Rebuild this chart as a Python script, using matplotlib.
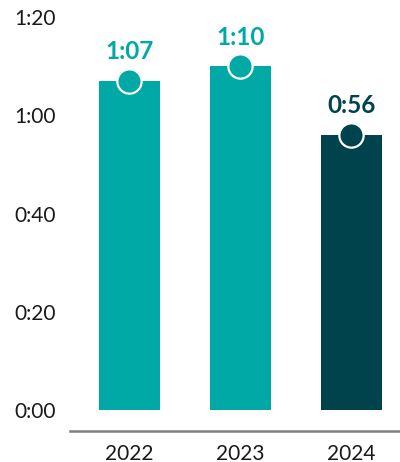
import matplotlib.pyplot as plt

years = ['2022', '2023', '2024']
minutes = [67, 70, 56]
labels = ['1:07', '1:10', '0:56']
bar_colors = ['#00A9A5', '#00A9A5', '#00434D']
ytick_vals = [0, 20, 40, 60, 80]
ytick_labels = ['0:00', '0:20', '0:40', '1:00', '1:20']

plt.rcParams['font.family'] = ['Lato', 'DejaVu Sans']

fig = plt.figure(figsize=(4.0, 4.62), dpi=100)
ax = fig.add_axes([0.175, 0.067, 0.825, 0.933])

x = list(range(len(years)))
ax.bar(x, minutes, width=0.55, color=bar_colors, zorder=2)
for xi, m, lab, c in zip(x, minutes, labels, bar_colors):
  ax.plot(xi, m, 'o', markersize=17.5, color=c, markeredgecolor='white',
          markeredgewidth=1.6, zorder=3, clip_on=False)
  ax.annotate(lab, (xi, m), xytext=(0, 21), textcoords='offset points',
              ha='center', va='center', fontsize=17.5, fontweight='bold',
              color=c)

ax.set_xlim(-0.536, 2.437)
ax.set_ylim(-4.3, 83.5)
ax.set_xticks(x)
ax.set_xticklabels(years, fontsize=15, color='#1a1a1a')
ax.set_yticks(ytick_vals)
ax.set_yticklabels(ytick_labels, fontsize=15, color='#1a1a1a')
ax.tick_params(length=0)
ax.tick_params(axis='y', pad=10)
ax.tick_params(axis='x', pad=9)
for s in ['top', 'right', 'left']:
  ax.spines[s].set_visible(False)
ax.spines['bottom'].set_color('#808080')
ax.spines['bottom'].set_linewidth(1.8)

fig.savefig('out.png', dpi=100)
